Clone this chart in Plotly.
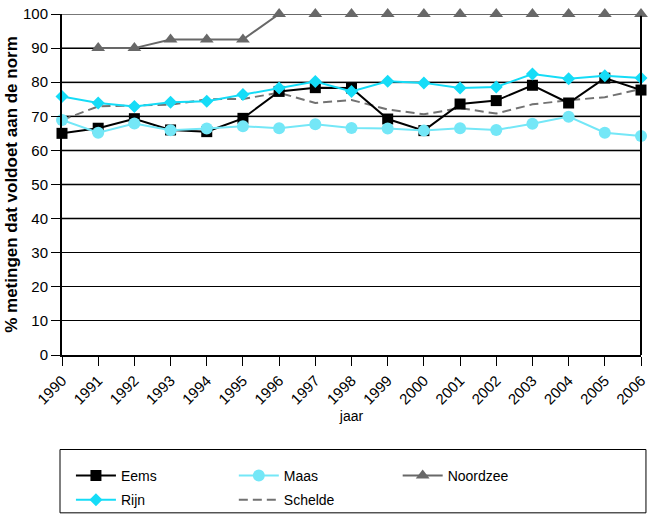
import plotly.graph_objects as go

years = list(range(1990, 2007))
eems = [65.0, 66.5, 69.3, 66.0, 65.5, 69.4, 77.3, 78.4, 78.3, 69.2, 65.8, 73.6, 74.6, 79.1, 73.9, 81.2, 77.7]
maas = [68.9, 65.2, 67.9, 65.9, 66.4, 67.1, 66.5, 67.7, 66.6, 66.4, 65.8, 66.5, 66.0, 67.8, 69.9, 65.2, 64.2]
noordzee = [None, 90.0, 90.0, 92.5, 92.5, 92.5, 100, 100, 100, 100, 100, 100, 100, 100, 100, 100, 100]
rijn = [75.8, 73.9, 72.9, 74.1, 74.4, 76.4, 78.3, 80.2, 77.3, 80.3, 79.8, 78.3, 78.6, 82.4, 81.0, 81.9, 81.2]
schelde = [68.9, 72.9, 73.2, 73.4, 75.0, 75.1, 76.9, 73.9, 74.8, 72.0, 70.6, 72.4, 70.8, 73.5, 74.7, 75.6, 78.0]

y_ticks = list(range(0, 101, 10))
gray_grid = [40, 50, 60, 70, 80, 90, 100]

FONT = "Liberation Sans, Arial, sans-serif"

# plot area in pixels: x 62..645, y 5..355
PL, PR, PT, PB = 62, 645, 5, 355
def px_x(v):
    return (v - PL) / (PR - PL)
def px_y(v):
    return (PB - v) / (PB - PT)

fig = go.Figure()

fig.add_trace(go.Scatter(x=years, y=noordzee, name="Noordzee", mode="lines+markers",
                         line=dict(color="#686868", width=2),
                         marker=dict(symbol="triangle-up", size=12, color="#686868"),
                         cliponaxis=False, legend="legend3"))
fig.add_trace(go.Scatter(x=years, y=schelde, name="Schelde", mode="lines",
                         line=dict(color="#727272", width=2, dash="9px,5px"),
                         cliponaxis=False, legend="legend5"))
fig.add_trace(go.Scatter(x=years, y=eems, name="Eems", mode="lines+markers",
                         line=dict(color="#000000", width=2),
                         marker=dict(symbol="square", size=11, color="#000000"),
                         cliponaxis=False, legend="legend"))
fig.add_trace(go.Scatter(x=years, y=maas, name="Maas", mode="lines+markers",
                         line=dict(color="#74e7f7", width=2),
                         marker=dict(symbol="circle", size=12, color="#74e7f7"),
                         cliponaxis=False, legend="legend2"))
fig.add_trace(go.Scatter(x=years, y=rijn, name="Rijn", mode="lines+markers",
                         line=dict(color="#15dcf7", width=2),
                         marker=dict(symbol="diamond", size=10, color="#15dcf7"),
                         cliponaxis=False, legend="legend4"))

shapes = []
for g in gray_grid:
    shapes.append(dict(type="line", xref="paper", x0=0, x1=1, yref="y", y0=g, y1=g,
                       line=dict(color="#777777", width=2), layer="between"))
# right border
shapes.append(dict(type="line", xref="paper", x0=1, x1=1, yref="paper", y0=0, y1=0.995,
                   line=dict(color="#000000", width=2), layer="above"))
# legend box
shapes.append(dict(type="rect", xref="paper", yref="paper",
                   x0=px_x(60), x1=px_x(650), y0=px_y(517), y1=px_y(452),
                   line=dict(color="#000000", width=1), fillcolor="rgba(0,0,0,0)", layer="above"))

def leg(xp, yp):
    return dict(orientation="h", xref="paper", yref="paper", xanchor="left", yanchor="middle",
                x=px_x(xp), y=px_y(yp), itemwidth=40,
                bgcolor="rgba(0,0,0,0)", borderwidth=0,
                font=dict(family=FONT, size=14, color="#000000"))

fig.update_layout(
    width=653, height=524,
    margin=dict(l=PL, r=653 - PR, t=PT, b=524 - PB),
    paper_bgcolor="white", plot_bgcolor="white",
    font=dict(family=FONT, size=14, color="#000000"),
    showlegend=True,
    legend=leg(71, 479),
    legend2=leg(235, 479),
    legend3=leg(400, 479),
    legend4=leg(71, 504),
    legend5=leg(235, 504),
    shapes=shapes,
    xaxis=dict(range=[1990, 2006], tickmode="array", tickvals=years, ticktext=[str(y) for y in years],
               tickangle=-45, ticks="outside", ticklen=9, tickwidth=1, tickcolor="#000000",
               showline=True, linecolor="#000000", linewidth=2, showgrid=False, zeroline=False,
               ticklabeloverflow="allow",
               tickfont=dict(family=FONT, size=15, color="#000000"),
               title=dict(text="jaar", font=dict(family=FONT, size=14, color="#000000"), standoff=4)),
    yaxis=dict(range=[0, 100], tickmode="array", tickvals=y_ticks, ticks="outside", ticklen=9,
               tickwidth=1, tickcolor="#000000",
               showline=True, linecolor="#000000", linewidth=2, showgrid=True, gridcolor="#000000",
               gridwidth=1, zeroline=False, ticklabeloverflow="allow",
               tickfont=dict(family=FONT, size=15, color="#000000"),
               title=dict(text="<b>% metingen dat voldoet aan de norm</b>",
                          font=dict(family=FONT, size=17, color="#000000"), standoff=1)),
)

fig.write_html("out.html")
